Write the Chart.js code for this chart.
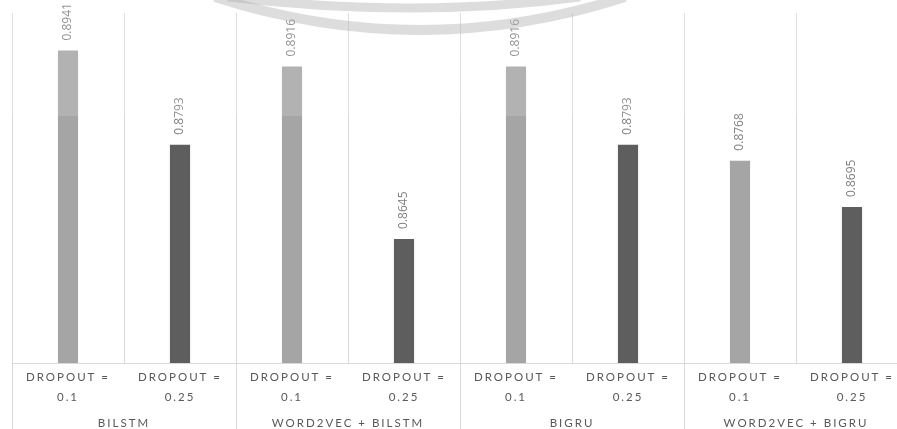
<!DOCTYPE html>
<html>
<head>
<meta charset="utf-8">
<script src="https://cdn.jsdelivr.net/npm/chart.js@4.4.1/dist/chart.umd.min.js"></script>
<style>
  html, body { margin: 0; padding: 0; background: #fff; overflow: hidden; }
  #outer { width: 897px; height: 429px; overflow: hidden; position: relative; }
  #wrap { width: 920px; height: 435px; position: absolute; left: 0; top: 0; }
</style>
</head>
<body>
<div id="outer"><div id="wrap"><canvas id="c"></canvas></div></div>
<script>
// ---- data ----
const groups = ['BILSTM', 'WORD2VEC + BILSTM', 'BIGRU', 'WORD2VEC + BIGRU'];
const dropoutLabels = [['DROPOUT =', '0.1'], ['DROPOUT =', '0.25']];
const dropout01 = [0.8941, 0.8916, 0.8916, 0.8768];
const dropout025 = [0.8793, 0.8645, 0.8793, 0.8695];
const valueLabels = ['0.8941', '0.8793', '0.8916', '0.8645', '0.8916', '0.8793', '0.8768', '0.8695'];

const LIGHT = '#a5a5a5';
const DARK = '#5e5e5e';

const categories = [];
const values = [];
const colors = [];
groups.forEach((g, i) => {
  categories.push(dropoutLabels[0]); values.push(dropout01[i]); colors.push(LIGHT);
  categories.push(dropoutLabels[1]); values.push(dropout025[i]); colors.push(DARK);
});

const FONT = 'Lato, "Open Sans", sans-serif';

const spacingPlugin = {
  id: 'spacing',
  beforeDraw(chart) { chart.ctx.letterSpacing = '2px'; }
};

const valueLabelPlugin = {
  id: 'valueLabels',
  afterDatasetsDraw(chart) {
    const ctx = chart.ctx;
    const meta = chart.getDatasetMeta(0);
    ctx.save();
    ctx.letterSpacing = '0px';
    ctx.fillStyle = '#7f7f7f';
    ctx.font = '12px "Open Sans", Lato, sans-serif';
    ctx.textAlign = 'left';
    ctx.textBaseline = 'middle';
    meta.data.forEach((bar, i) => {
      ctx.save();
      ctx.translate(bar.x, bar.y - 10);
      ctx.rotate(-Math.PI / 2);
      ctx.fillText(valueLabels[i], 0, 0);
      ctx.restore();
    });
    ctx.restore();
  }
};

const decorPlugin = {
  id: 'decor',
  afterDraw(chart) {
    const ctx = chart.ctx;
    const xs = chart.scales.x;
    const area = chart.chartArea;
    const step = xs.getPixelForValue(1) - xs.getPixelForValue(0);
    ctx.save();
    // group separators extending through the label area
    ctx.strokeStyle = '#d9d9d9';
    ctx.lineWidth = 1;
    for (let i = 0; i <= categories.length; i += 2) {
      const x = Math.round(xs.getPixelForValue(0) - step / 2 + i * step) + 0.5;
      ctx.beginPath();
      ctx.moveTo(x, area.bottom);
      ctx.lineTo(x, chart.height);
      ctx.stroke();
    }
    // faint watermark
    ctx.fillStyle = 'rgba(255,255,255,0.15)';
    ctx.fillRect(0, 0, chart.width, 116);
    ctx.strokeStyle = 'rgba(175,175,175,0.42)';
    ctx.lineCap = 'butt';
    ctx.lineWidth = 9;
    ctx.beginPath();
    ctx.moveTo(228, -3);
    ctx.quadraticCurveTo(415, 19, 580, -3);
    ctx.stroke();
    ctx.lineWidth = 10;
    ctx.beginPath();
    ctx.moveTo(215, -3);
    ctx.quadraticCurveTo(420, 63, 625, -3);
    ctx.stroke();
    ctx.restore();
  }
};

new Chart(document.getElementById('c'), {
  type: 'bar',
  data: {
    labels: categories,
    datasets: [{
      data: values,
      backgroundColor: colors,
      borderWidth: 0,
      categoryPercentage: 1,
      barPercentage: 0.18
    }]
  },
  options: {
    responsive: true,
    maintainAspectRatio: false,
    animation: false,
    layout: { padding: { left: 12, right: 12, top: 13, bottom: 0 } },
    plugins: { legend: { display: false }, tooltip: { enabled: false } },
    scales: {
      x: {
        weight: 0,
        offset: true,
        grid: { color: '#d9d9d9', offset: true, drawTicks: false },
        border: { display: true, color: '#d9d9d9' },
        ticks: {
          color: '#595959',
          font: { family: FONT, size: 11.5, lineHeight: '20px' },
          padding: 4,
          maxRotation: 0,
          autoSkip: false
        }
      },
      x2: {
        type: 'category',
        position: 'bottom',
        weight: 1,
        labels: groups,
        offset: true,
        grid: { display: false, drawTicks: false },
        border: { display: false },
        ticks: {
          color: '#595959',
          font: { family: FONT, size: 11.5, lineHeight: '20px' },
          padding: 2,
          maxRotation: 0,
          autoSkip: false
        }
      },
      y: {
        display: false,
        min: 0.845,
        max: 0.9
      }
    }
  },
  plugins: [spacingPlugin, valueLabelPlugin, decorPlugin]
});
</script>
</body>
</html>
